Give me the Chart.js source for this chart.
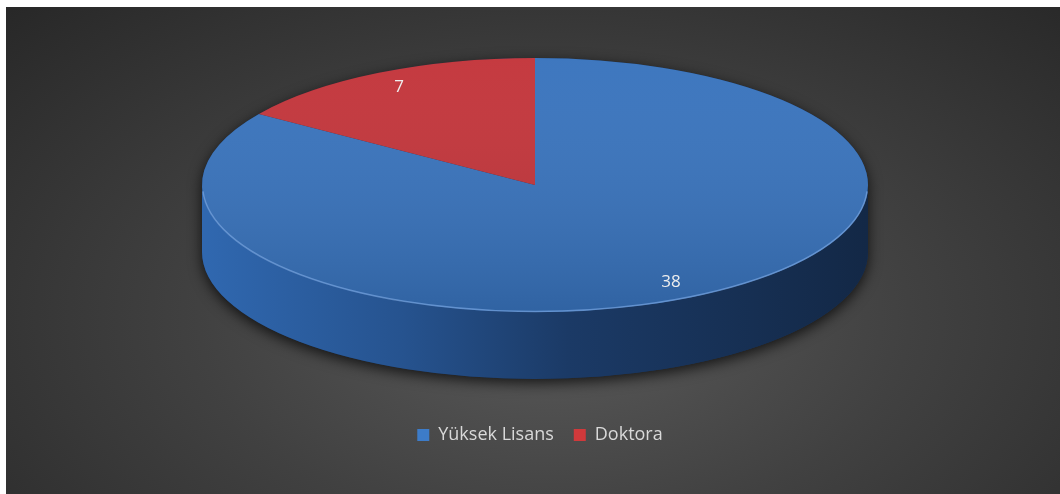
<!DOCTYPE html>
<html>
<head>
<meta charset="utf-8">
<script src="https://cdn.jsdelivr.net/npm/chart.js@4.4.0/dist/chart.umd.min.js"></script>
<style>
  html, body { margin: 0; padding: 0; background: #fff; }
  #wrap {
    position: absolute; left: 6px; top: 7px; width: 1054px; height: 487px;
    background: radial-gradient(ellipse 75% 95% at 52% 64%, #5a5a5a 0%, #414141 45%, #262626 100%);
  }
</style>
</head>
<body>
<div id="wrap"><canvas id="chart" width="1054" height="487"></canvas></div>
<script>
const LABELS = ['Yüksek Lisans', 'Doktora'];
const VALUES = [38, 7];
const COLORS = ['#3873bd', '#c3343a'];

// 3Dっぽく見せるための楕円パラメータ（canvas座標）
const CX = 529, CY = 178, RX = 333, RY = 127, DEPTH = 67;
const LABEL_POS = 0.87;

const sideGradient = (ctx) => {
  const g = ctx.createLinearGradient(CX - RX, 0, CX + RX, 0);
  g.addColorStop(0, '#3068b0');
  g.addColorStop(0.3, '#26538f');
  g.addColorStop(0.55, '#1b3a66');
  g.addColorStop(1, '#132846');
  return g;
};

const pie3d = {
  id: 'pie3d',
  beforeDatasetsDraw(chart) {
    const ctx = chart.ctx;
    const arcs = chart.getDatasetMeta(0).data;
    const p0 = arcs[0].getProps(['x', 'y', 'outerRadius'], true);

    ctx.save();
    // 影付きのシルエット
    ctx.shadowColor = 'rgba(0,0,0,0.75)';
    ctx.shadowBlur = 14;
    ctx.shadowOffsetY = 4;
    ctx.beginPath();
    ctx.ellipse(CX, CY, RX, RY, 0, Math.PI, 2 * Math.PI);
    ctx.lineTo(CX + RX, CY + DEPTH);
    ctx.ellipse(CX, CY + DEPTH, RX, RY, 0, 0, Math.PI);
    ctx.closePath();
    ctx.fillStyle = '#1a3358';
    ctx.fill();
    ctx.restore();

    // 側面（手前側 0〜π の部分だけ）
    arcs.forEach((arc, i) => {
      const { startAngle, endAngle } = arc.getProps(['startAngle', 'endAngle'], true);
      [0, 2 * Math.PI].forEach((k) => {
        const a0 = Math.max(startAngle, k), a1 = Math.min(endAngle, k + Math.PI);
        if (a1 <= a0) return;
        ctx.save();
        ctx.beginPath();
        ctx.ellipse(CX, CY, RX, RY, 0, a0, a1);
        ctx.ellipse(CX, CY + DEPTH, RX, RY, 0, a1, a0, true);
        ctx.closePath();
        ctx.fillStyle = i === 0 ? sideGradient(ctx) : '#7a1f22';
        ctx.fill();
        ctx.restore();
      });
    });

    // 上面：ライブラリのarcを楕円に変形して描く
    ctx.save();
    ctx.translate(CX, CY);
    ctx.scale(RX / p0.outerRadius, RY / p0.outerRadius);
    ctx.translate(-p0.x, -p0.y);
    arcs.forEach((arc) => arc.draw(ctx));
    ctx.restore();

    // 上面の陰影と手前の縁のハイライト
    ctx.save();
    ctx.beginPath();
    ctx.ellipse(CX, CY, RX, RY, 0, 0, 2 * Math.PI);
    const g = ctx.createLinearGradient(0, CY - RY, 0, CY + RY);
    g.addColorStop(0, 'rgba(255,255,255,0.03)');
    g.addColorStop(1, 'rgba(0,0,0,0.14)');
    ctx.fillStyle = g;
    ctx.fill();
    ctx.beginPath();
    ctx.ellipse(CX, CY, RX - 0.5, RY - 0.5, 0, 0.05, Math.PI - 0.05);
    ctx.strokeStyle = 'rgba(120,165,225,0.7)';
    ctx.lineWidth = 1.5;
    ctx.stroke();
    ctx.restore();

    // 値ラベル
    ctx.save();
    ctx.fillStyle = '#eeeeee';
    ctx.font = '17px "Open Sans"';
    ctx.textAlign = 'center';
    ctx.textBaseline = 'middle';
    arcs.forEach((arc, i) => {
      const { startAngle, endAngle } = arc.getProps(['startAngle', 'endAngle'], true);
      const mid = (startAngle + endAngle) / 2;
      ctx.fillText(String(VALUES[i]), CX + Math.cos(mid) * RX * LABEL_POS, CY + Math.sin(mid) * RY * LABEL_POS);
    });
    ctx.restore();
    return false;
  }
};

window.onload = function () {
  const context = document.querySelector('#chart').getContext('2d');
  new Chart(context, {
    type: 'pie',
    data: {
      labels: LABELS,
      datasets: [{
        data: VALUES,
        backgroundColor: COLORS,
        borderWidth: 0,
      }],
    },
    options: {
      responsive: false,
      animation: false,
      layout: { padding: { left: 14, bottom: 40 } },
      plugins: {
        tooltip: { enabled: false },
        legend: {
          position: 'bottom',
          labels: {
            color: '#d9d9d9',
            font: { size: 18, family: 'Open Sans' },
            boxWidth: 12,
            boxHeight: 12,
            padding: 20,
            generateLabels: (chart) => LABELS.map((label, i) => ({
              text: label,
              fillStyle: ['#3d7cc9', '#d0393b'][i],
              strokeStyle: 'transparent',
              lineWidth: 0,
              fontColor: '#d9d9d9',
              index: i,
            })),
          },
        },
      },
    },
    plugins: [pie3d],
  });
};
</script>
</body>
</html>
